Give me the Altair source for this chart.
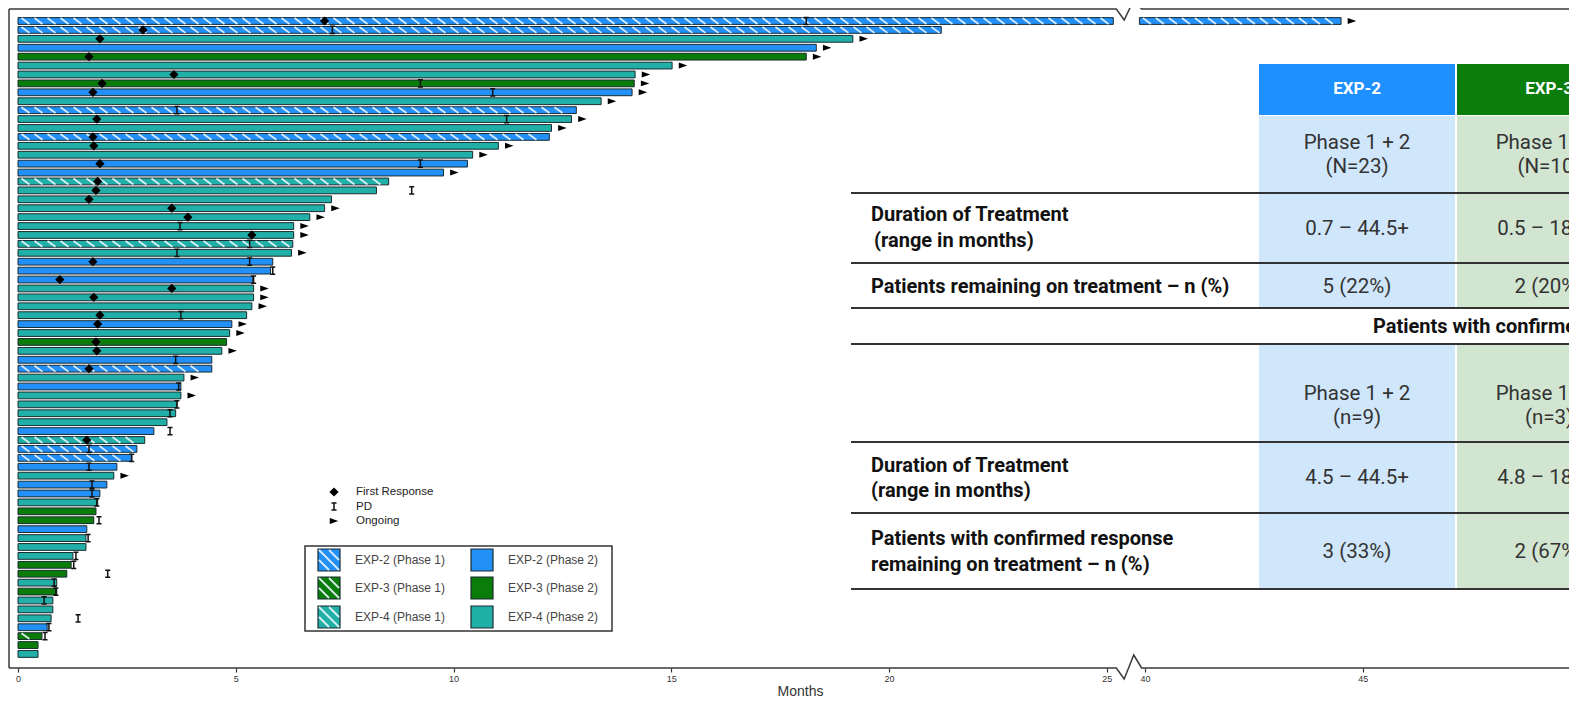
import altair as alt
import pandas as pd

# ---------------- data ----------------
ROW = list(range(1, 73))
ARM = [2, 2, 4, 2, 3, 4, 4, 3, 2, 4,
       2, 4, 4, 2, 4, 4, 2, 2, 4, 4,
       4, 4, 4, 4, 4, 4, 4, 2, 2, 2,
       4, 4, 4, 4, 2, 4, 3, 4, 2, 2,
       4, 2, 4, 4, 4, 4, 2, 4, 2, 2,
       2, 4, 2, 2, 4, 3, 3, 2, 4, 4,
       4, 3, 3, 4, 3, 4, 4, 4, 2, 3,
       3, 4]
PHASE1_ROWS = [1, 2, 11, 14, 19, 26, 40, 48, 49, 50, 70]
END = [44.5, 21.2, 19.17, 18.33, 18.1, 15.02, 14.17, 14.15, 14.1, 13.39,
       12.82, 12.71, 12.25, 12.2, 11.03, 10.44, 10.32, 9.77, 8.51, 8.23,
       7.2, 7.04, 6.7, 6.33, 6.33, 6.31, 6.28, 5.85, 5.8, 5.39,
       5.41, 5.41, 5.37, 5.25, 4.91, 4.86, 4.79, 4.68, 4.45, 4.45,
       3.81, 3.74, 3.74, 3.65, 3.62, 3.42, 3.12, 2.91, 2.73, 2.61,
       2.27, 2.2, 2.04, 1.88, 1.83, 1.79, 1.74, 1.58, 1.56, 1.56,
       1.26, 1.22, 1.12, 0.89, 0.89, 0.8, 0.8, 0.76, 0.67, 0.55,
       0.46, 0.46]
RESP_ROW = [1, 2, 3, 5, 7, 8, 9, 12, 14, 15, 17, 19, 20, 21, 22, 23, 25, 28, 30, 31,
            32, 34, 35, 37, 38, 40, 48]
RESP_VAL = [7.04, 2.87, 1.88, 1.63, 3.58, 1.93, 1.72, 1.81, 1.72, 1.74, 1.88, 1.83, 1.79,
            1.63, 3.53, 3.9, 5.37, 1.72, 0.96, 3.53, 1.74, 1.88, 1.83, 1.79, 1.81, 1.63, 1.58]
PD_ROW = [1, 2, 8, 9, 11, 12, 17, 20, 24, 26, 27, 28, 29, 30, 34, 39, 42, 44, 45, 47,
          49, 50, 51, 53, 54, 55, 57, 59, 61, 62, 63, 64, 65, 66, 68, 69, 70]
PD_VAL = [18.1, 7.22, 9.24, 10.9, 3.65, 11.22, 9.24, 9.04, 3.72, 5.32, 3.65, 5.32, 5.85,
          5.41, 3.74, 3.62, 3.69, 3.65, 3.49, 3.49, 1.63, 2.61, 1.63, 1.7, 1.7, 1.81, 1.86,
          1.61, 1.33, 1.28, 2.06, 0.83, 0.87, 0.6, 1.38, 0.71, 0.62]
ONGOING_ROW = [1, 3, 4, 5, 6, 7, 8, 9, 10, 12, 13, 15, 16, 18, 22, 23, 24, 25, 27, 31,
               32, 33, 35, 36, 38, 41, 43, 52]

ARM_NAMES = ["EXP-2", "EXP-3", "EXP-4"]
ARM_COLORS = ["#2290f6", "#0a7c0a", "#21b0a8"]
TICK_LABELS = [0, 5, 10, 15, 20, 25, 40, 45, 50]
MARKER_LABELS = ["First Response", "PD", "Ongoing"]
LEGEND_LABELS = [["EXP-2 (Phase 1)", "EXP-2 (Phase 2)"],
                 ["EXP-3 (Phase 1)", "EXP-3 (Phase 2)"],
                 ["EXP-4 (Phase 1)", "EXP-4 (Phase 2)"]]

TABLE_HEADERS = ["EXP-2", "EXP-3"]
S1_COHORT = [["Phase 1 + 2", "(N=23)"], ["Phase 1 + 2", "(N=10)"]]
S1_DURATION = ["0.7 – 44.5+", "0.5 – 18.1+"]
S1_REMAINING = ["5 (22%)", "2 (20%)"]
S2_TITLE = "Patients with confirmed response"
S2_COHORT = [["Phase 1 + 2", "(n=9)"], ["Phase 1 + 2", "(n=3)"]]
S2_DURATION = ["4.5 – 44.5+", "4.8 – 18.1+"]
S2_REMAINING = ["3 (33%)", "2 (67%)"]
S1_LABELS = [["Duration of Treatment", "(range in months)"],
             ["Patients remaining on treatment – n (%)"]]
S2_LABELS = [["Duration of Treatment", "(range in months)"],
             ["Patients with confirmed response", "remaining on treatment – n (%)"]]

# ---------------- broken axis settings ----------------
CUT_LO = 25.15     # bar stops before the break
CUT_HI = 39.87     # bar resumes after the break
SHIFT = 14.12      # 40 -> 25.88 on the drawn axis
POS_EXPR = "(datum.v > 30 ? datum.v - %s : datum.v)" % SHIFT


def pos(v):
    return v - SHIFT if v > 30 else v


PXU = 43.55        # pixels per month
W, H = 1560, 659
XMIN = -0.2067
XMAX = XMIN + W / PXU
YMIN, YMAX = -0.346, 73.574
HALF = 0.38

XS = alt.Scale(domain=[XMIN, XMAX], nice=False, zero=False)
YS = alt.Scale(domain=[YMIN, YMAX], reverse=True, nice=False, zero=False)
AX = alt.Axis(values=[pos(t) for t in TICK_LABELS], domain=False, grid=False,
              labelExpr="datum.value > 25.5 ? format(datum.value + %s, '.0f') : format(datum.value, '.0f')" % SHIFT,
              labelFont="Liberation Sans", labelFontSize=9, labelColor="#333",
              labelFlush=False, labelOverlap=False, labelPadding=2,
              tickColor="#333", tickSize=4, tickWidth=1.2,
              title="Months", titleFont="Liberation Sans", titleFontSize=14,
              titleFontWeight="normal", titleColor="#333", titlePadding=1, titleX=791)


def X(f):
    return alt.X(f, type="quantitative", scale=XS, axis=AX)


def Y(f):
    return alt.Y(f, type="quantitative", scale=YS, axis=None)


arm_of = {r: ARM_NAMES[a - 2] for r, a in zip(ROW, ARM)}
end_of = dict(zip(ROW, END))

# bars (split at the axis break)
seg = []
for r, e in zip(ROW, END):
    parts = [(0.0, CUT_LO), (CUT_HI, e)] if e > CUT_LO else [(0.0, e)]
    for a, b in parts:
        seg.append(dict(row=r, arm=arm_of[r], a=a, b=b))
bars_df = pd.DataFrame(seg)

color = alt.Color("arm:N", scale=alt.Scale(domain=ARM_NAMES, range=ARM_COLORS), legend=None)

bars = alt.Chart(bars_df).transform_calculate(
    x0="(datum.a > 30 ? datum.a - %s : datum.a)" % SHIFT,
    x1="(datum.b > 30 ? datum.b - %s : datum.b)" % SHIFT,
    y0="datum.row - %s" % HALF, y1="datum.row + %s" % HALF,
).mark_rect(stroke="#1b2b30", strokeWidth=1).encode(
    x=X("x0"), x2="x1", y=Y("y0"), y2="y1", color=color)

# hatch stripes on phase-1 bars
STEP = 13 / PXU
SLANT = 8 / PXU
st = []
for s in seg:
    if s["row"] in PHASE1_ROWS:
        x0, x1 = pos(s["a"]), pos(s["b"])
        p = x0 + 0.08
        while p + SLANT <= x1 - 0.03:
            st.append(dict(sx=p, sx2=p + SLANT, sy=s["row"] - HALF + 0.05, sy2=s["row"] + HALF - 0.05))
            p += STEP
stripes = alt.Chart(pd.DataFrame(st)).mark_rule(color="#eef6ff", strokeWidth=1.8, opacity=0.9).encode(
    x=X("sx"), x2="sx2", y=Y("sy"), y2="sy2")

# frame lines with break zigzags
fr = []
def add_line(name, pts):
    for i, (x, y) in enumerate(pts):
        fr.append(dict(g=name, i=i, fx=x, fy=y))
add_line("left", [(XMIN, YMIN), (XMIN, YMAX)])
add_line("top", [(XMIN, YMIN), (25.22, YMIN), (25.4, 0.89), (25.62, -1.36), (25.8, YMIN), (XMAX, YMIN)])
add_line("bottom", [(XMIN, YMAX), (25.22, YMAX), (25.4, 74.81), (25.62, 72.12), (25.8, YMAX), (XMAX, YMAX)])
frame = alt.Chart(pd.DataFrame(fr)).mark_line(color="#3a3a3a", strokeWidth=1.5).encode(
    x=X("fx"), y=Y("fy"), detail="g:N", order="i:Q")

resp_df = pd.DataFrame(dict(row=RESP_ROW, v=RESP_VAL))
diamonds = alt.Chart(resp_df).transform_calculate(px=POS_EXPR).mark_point(
    shape="diamond", filled=True, color="#000", size=85, opacity=1).encode(x=X("px"), y=Y("row"))

IBEAM = "M-0.7,-1H0.7M0,-1V1M-0.7,1H0.7"
pd_df = pd.DataFrame(dict(row=PD_ROW, v=PD_VAL))
pds = alt.Chart(pd_df).transform_calculate(px=POS_EXPR).mark_point(
    shape=IBEAM, filled=False, color="#111", strokeWidth=1.5, size=52, opacity=1).encode(x=X("px"), y=Y("row"))

ARROW = "M-1,-0.7L1,0L-1,0.7Z"
on_df = pd.DataFrame(dict(row=ONGOING_ROW, v=[end_of[r] for r in ONGOING_ROW]))
arrows = alt.Chart(on_df).transform_calculate(px=POS_EXPR + " + 0.25").mark_point(
    shape=ARROW, filled=True, color="#000", size=72, opacity=1).encode(x=X("px"), y=Y("row"))

main = alt.layer(bars, stripes, frame, diamonds, pds, arrows)

# ---------------- overlay: legends and table (own pixel scales) ----------------
OXS = alt.Scale(domain=[0, W], nice=False, zero=False)
OYS = alt.Scale(domain=[0, H], reverse=True, nice=False, zero=False)


def OX(f):
    return alt.X(f, type="quantitative", scale=OXS, axis=None)


def OY(f):
    return alt.Y(f, type="quantitative", scale=OYS, axis=None)


def text_layer(rows, size, weight="normal", color="#333", align="left", font="Roboto"):
    return alt.Chart(pd.DataFrame(rows)).mark_text(
        align=align, baseline="middle", fontSize=size, fontWeight=weight, color=color, font=font
    ).encode(x=OX("x"), y=OY("y"), text="t:N")


# marker legend
ML_X, ML_TX, ML_Y0, ML_DY = 325, 347, 483, 14.5
mk_layers = []
for k, shp in enumerate(["diamond", IBEAM, ARROW]):
    d = pd.DataFrame([dict(x=ML_X, y=ML_Y0 + k * ML_DY)])
    if shp == IBEAM:
        m = alt.Chart(d).mark_point(shape=shp, filled=False, color="#111", strokeWidth=1.5, size=52, opacity=1)
    else:
        m = alt.Chart(d).mark_point(shape=shp, filled=True, color="#000", size=85 if shp == "diamond" else 72, opacity=1)
    mk_layers.append(m.encode(x=OX("x"), y=OY("y")))
mk_text = text_layer([dict(x=ML_TX, y=ML_Y0 + k * ML_DY, t=l) for k, l in enumerate(MARKER_LABELS)],
                     11.5, color="#222", font="Liberation Sans")

# arm legend box
BOX = dict(x=296, x2=603, y=537, y2=622)
box = alt.Chart(pd.DataFrame([BOX])).mark_rect(fill="white", stroke="#333", strokeWidth=1.5).encode(
    x=OX("x"), x2="x2", y=OY("y"), y2="y2")
SW_X = [309, 462]
SW_Y = [551, 579, 608]
SW = 22
sw, sw_st, sw_tx = [], [], []
for ri, arm in enumerate(ARM_NAMES):
    for ci in range(2):
        x0, y0 = SW_X[ci], SW_Y[ri] - SW / 2
        sw.append(dict(x=x0, x2=x0 + SW, y=y0, y2=y0 + SW, arm=arm))
        sw_tx.append(dict(x=SW_X[ci] + 37, y=SW_Y[ri], t=LEGEND_LABELS[ri][ci]))
        if ci == 0:
            for dd in (-10, 0, 10):
                if dd < 0:
                    sw_st.append(dict(x=x0 + 1, y=y0 - dd + 1, x2=x0 + SW + dd - 1, y2=y0 + SW - 1))
                else:
                    sw_st.append(dict(x=x0 + dd + 1, y=y0 + 1, x2=x0 + SW - 1, y2=y0 + SW - dd - 1))
swatches = alt.Chart(pd.DataFrame(sw)).mark_rect(stroke="#1b2b30", strokeWidth=1.2).encode(
    x=OX("x"), x2="x2", y=OY("y"), y2="y2",
    color=alt.Color("arm:N", scale=alt.Scale(domain=ARM_NAMES, range=ARM_COLORS), legend=None))
sw_stripes = alt.Chart(pd.DataFrame(sw_st)).mark_rule(color="#eef6ff", strokeWidth=1.8, opacity=0.9).encode(
    x=OX("x"), x2="x2", y=OY("y"), y2="y2")
sw_text = text_layer(sw_tx, 12, color="#444", font="Liberation Sans")

# table layout
COL = [(1250, 1446), (1448, 1644)]
COL_C = [1348, 1540]
HEAD_Y = (55, 106)
BODY = [(107, 299), (335, 580)]
RULES = [184, 254, 299, 335, 433, 504, 580]
RULE_X = (842, 1620)
LAB_X = 862
HEAD_COLORS = ["#1e90ff", "#0a7d0a"]
BODY_COLORS = ["#d0e6fb", "#d2e5d1"]

cells = []
for ci in range(2):
    cells.append(dict(x=COL[ci][0], x2=COL[ci][1], y=HEAD_Y[0], y2=HEAD_Y[1], c=HEAD_COLORS[ci]))
    for b in BODY:
        cells.append(dict(x=COL[ci][0], x2=COL[ci][1], y=b[0], y2=b[1], c=BODY_COLORS[ci]))
cell_layer = alt.Chart(pd.DataFrame(cells)).mark_rect().encode(
    x=OX("x"), x2="x2", y=OY("y"), y2="y2", color=alt.Color("c:N", scale=None))
rule_layer = alt.Chart(pd.DataFrame([dict(x=RULE_X[0], x2=RULE_X[1], y=y) for y in RULES])).mark_rule(
    color="#333", strokeWidth=1.8).encode(x=OX("x"), x2="x2", y=OY("y"))

head_text = text_layer([dict(x=COL_C[i], y=80, t=TABLE_HEADERS[i]) for i in range(2)],
                       17, weight="bold", color="white", align="center")
vals = []
for i in range(2):
    vals += [dict(x=COL_C[i], y=134, t=S1_COHORT[i][0]), dict(x=COL_C[i], y=158, t=S1_COHORT[i][1]),
             dict(x=COL_C[i], y=220, t=S1_DURATION[i]), dict(x=COL_C[i], y=278, t=S1_REMAINING[i]),
             dict(x=COL_C[i], y=385, t=S2_COHORT[i][0]), dict(x=COL_C[i], y=409, t=S2_COHORT[i][1]),
             dict(x=COL_C[i], y=469, t=S2_DURATION[i]), dict(x=COL_C[i], y=543, t=S2_REMAINING[i])]
val_text = text_layer(vals, 20.5, color="#333", align="center")
labs = [dict(x=LAB_X, y=206, t=S1_LABELS[0][0]), dict(x=LAB_X + 3, y=232, t=S1_LABELS[0][1]),
        dict(x=LAB_X, y=278, t=S1_LABELS[1][0]),
        dict(x=LAB_X, y=457, t=S2_LABELS[0][0]), dict(x=LAB_X, y=482, t=S2_LABELS[0][1]),
        dict(x=LAB_X, y=530, t=S2_LABELS[1][0]), dict(x=LAB_X, y=556, t=S2_LABELS[1][1]),
        dict(x=1364, y=318, t=S2_TITLE)]
lab_text = text_layer(labs, 20, weight="bold", color="#111")

overlay = alt.layer(*mk_layers, mk_text, box, swatches, sw_stripes, sw_text,
                    cell_layer, rule_layer, head_text, val_text, lab_text)

chart = alt.layer(main, overlay).resolve_scale(
    x="independent", y="independent", color="independent"
).properties(
    width=W, height=H,
    autosize=alt.AutoSizeParams(type="none"),
    padding={"left": 1, "top": 1, "right": 0, "bottom": 35},
).configure_view(strokeWidth=0)

chart.save("out.html", embed_options={"renderer": "svg", "actions": False})
